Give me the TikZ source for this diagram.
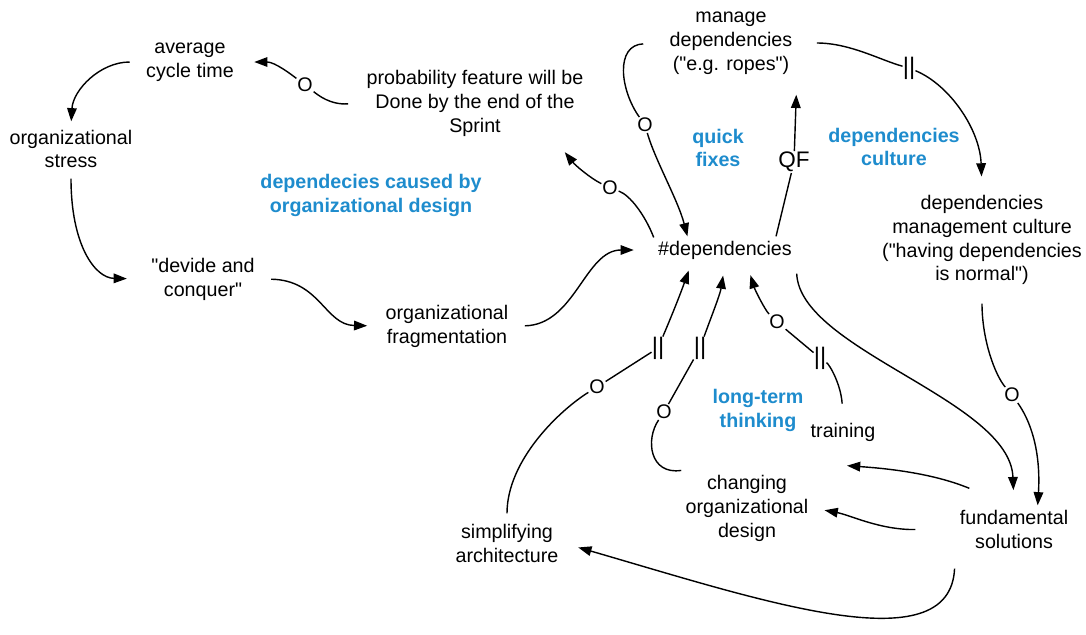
\documentclass[tikz,border=0pt]{standalone}
\usepackage{fontspec}
\setmainfont{Liberation Sans}[Ligatures=TeXOff]
\usetikzlibrary{arrows.meta,positioning}
\definecolor{loopblue}{RGB}{30,140,205}
\tikzset{
  var/.style     = {align=center, inner sep=3pt, font=\fontsize{14}{17}\selectfont},
  looplabel/.style = {align=center, inner sep=3pt, text=loopblue,
                    font=\bfseries\fontsize{14}{17}\selectfont},
  opp/.style     = {fill=white, inner sep=0.5pt, font=\fontsize{14}{14}\selectfont},
  delay/.style   = {fill=white, inner sep=0pt, font=\fontsize{17}{17}\selectfont},
  seg/.style     = {line width=1pt},
  link/.style    = {-{Triangle[length=3.3mm,width=2.4mm]}, line width=1pt},
}
\begin{document}
\begin{tikzpicture}[x=0.025cm,y=-0.025cm]
\useasboundingbox (0,0) rectangle (1086,634);
% variables
\node[var] (avg)     at (190,62)  {average\\cycle time};
\node[var] (stress)  at (71,149)  {organizational\\stress};
\node[var] (devide)  at (203,279) {"devide and\\conquer"};
\node[var] (frag)    at (447,326) {organizational\\fragmentation};
\node[var] (prob)    at (475,103) {probability feature will be\\Done by the end of the\\Sprint};
\node[var] (manage)  at (731,43)  {manage\\dependencies\\("e.g. ropes")};
\node[var] (dep)     at (725,250) {\#dependencies};
\node[var] (culture) at (982,240) {dependencies\\management culture\\("having dependencies\\is normal")};
\node[var] (train)   at (843,432) {training};
\node[var] (change)  at (747,508) {changing\\organizational\\design};
\node[var] (fund)    at (1014,529) {fundamental\\solutions};
\node[var] (simp)    at (507,543) {simplifying\\architecture};
% loop names
\node[looplabel] (orgloop)  at (371,195) {dependecies caused by\\organizational design};
\node[looplabel] (quick)    at (718,148) {quick\\fixes};
\node[looplabel] (cultloop) at (894,147) {dependencies\\culture};
\node[looplabel] (longterm) at (758,410) {long-term\\thinking};
% polarity and delay marks
\node[opp] (o1) at (305,85)  {O};
\node[opp] (o2) at (645,125) {O};
\node[opp] (o3) at (610,188) {O};
\node[opp] (o4) at (597,387) {O};
\node[opp] (o5) at (664,412) {O};
\node[opp] (o6) at (777,322) {O};
\node[opp] (o7) at (1012,395) {O};
\node[opp,font=\fontsize{16}{16}\selectfont] (qf) at (794,162) {QF};
\node[delay] (d1) at (909,68)  {||};
\node[delay] (d2) at (658,348) {||};
\node[delay] (d3) at (700,348) {||};
\node[delay] (d4) at (820,358) {||};

% left loop
\draw[link,shorten <=0.3cm,shorten >=0.1cm] (avg.west) .. controls (100,62) and (73,90) .. (stress.north);
\draw[link,shorten <=0.15cm,shorten >=0.5cm] (stress.south) .. controls (71,245) and (95,278) .. (devide.west);
\draw[link,shorten <=0.3cm,shorten >=0.35cm] (devide.east) .. controls (320,280) and (325,325) .. (frag.west);
\draw[link,shorten <=0.3cm,shorten >=0.5cm] (frag.east) .. controls (575,325) and (585,250) .. (dep.west);
\draw[seg,shorten <=0.35cm] (prob.west) .. controls (330,105) and (318,95) .. (o1);
\draw[link,shorten >=0.4cm] (o1) .. controls (292,75) and (275,62) .. (avg.east);

% quick fixes
\draw[seg,shorten <=0.55cm] (manage.west) .. controls (615,45) and (620,90) .. (o2);
\draw[link] (o2) .. controls (655,160) and (678,200) .. (dep.160);
\draw[seg] (dep.170) .. controls (645,215) and (630,195) .. (o3);
\draw[link,shorten >=0.37cm] (o3) .. controls (590,178) and (575,165) .. (prob.-25);
\draw[seg] (dep.15) -- (qf);
\draw[link,shorten >=0.4cm] (qf) -- (manage.south east);

% culture
\draw[seg,shorten <=0.5cm] (manage.east) .. controls (850,43) and (880,60) .. (d1);
\draw[link,shorten >=0.35cm] (d1) .. controls (950,85) and (980,130) .. (culture.north);
\draw[seg,shorten <=0.35cm] (culture.south) .. controls (982,340) and (995,375) .. (o7);
\draw[link] (o7) .. controls (1030,420) and (1041,450) .. (fund.45);

% long-term thinking
\draw[link,shorten <=0.25cm,shorten >=0.38cm] (dep.south east) .. controls (800,350) and (1010,400) .. (fund.north);
\draw[seg,shorten <=0.15cm] (simp.north) .. controls (507,460) and (560,410) .. (o4);
\draw[seg] (o4) -- (d2);
\draw[link,shorten >=0.18cm] (d2) .. controls (672,315) and (680,295) .. (dep.-158);
\draw[seg] (change.north west) .. controls (650,475) and (645,440) .. (o5);
\draw[seg] (o5) -- (d3);
\draw[link,shorten >=0.3cm] (d3) .. controls (710,320) and (720,295) .. (dep.south);
\draw[seg,shorten <=0.37cm] (train.north) .. controls (841,385) and (830,365) .. (d4);
\draw[seg] (d4) -- (o6);
\draw[link,shorten >=0.3cm] (o6) .. controls (765,310) and (755,290) .. (dep.-32);
\draw[link] ([shift={(14,-17)}]fund.north west) .. controls (930,472) and (880,468) .. ([shift={(4,20)}]train.south);
\draw[link,shorten <=1cm,shorten >=0.3cm] (fund.west) .. controls (880,530) and (850,515) .. (change.east);
\draw[link,shorten <=0.4cm,shorten >=0.4cm] (fund.south west) .. controls (950,665) and (760,600) .. (simp.east);
\end{tikzpicture}
\end{document}
